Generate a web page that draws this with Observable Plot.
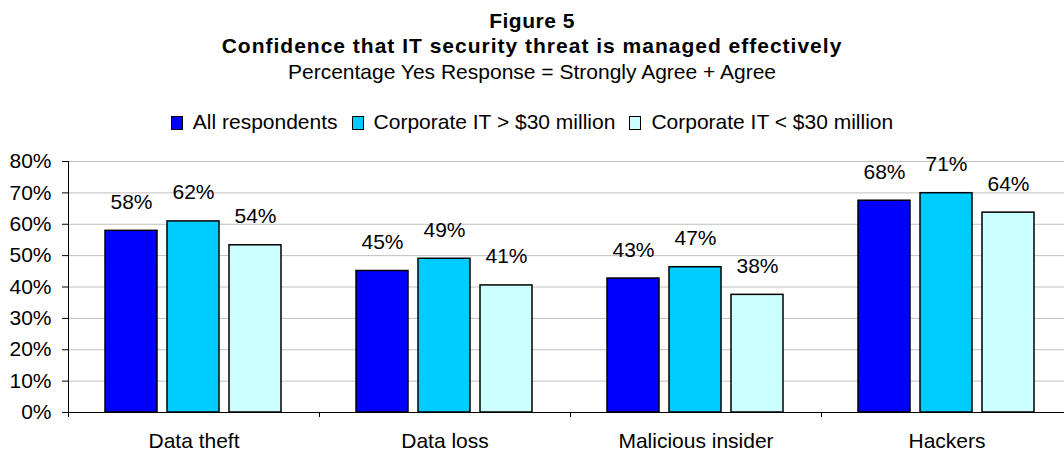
<!DOCTYPE html>
<html><head><meta charset="utf-8">
<script src="https://cdn.jsdelivr.net/npm/d3@7"></script>
<script src="https://cdn.jsdelivr.net/npm/@observablehq/plot@0.6"></script>
<style>
body{margin:0;background:#fff;font-family:"Liberation Sans",Arial,sans-serif;color:#000}
#wrap{position:relative;width:1064px;height:451px;overflow:hidden;background:#fff}
.t{position:absolute;left:0;width:1064px;text-align:center;font-size:21px;line-height:26px;white-space:nowrap}
.b{font-weight:bold}
#legend{position:absolute;left:0;top:109px;width:1064px;display:flex;justify-content:center;align-items:center;font-size:21px;line-height:26px;white-space:nowrap}
.item{display:flex;align-items:center;margin:0 7px}
.sw{width:10px;height:12px;border:1px solid #000;margin-right:10px;margin-top:2px}
#chart{position:absolute;left:0;top:140px}
#chart g[aria-label="y-grid"] line{stroke:#c0c0c0 !important;stroke-opacity:1 !important}
</style></head>
<body>
<div id="wrap">
  <div class="t b" style="top:8px;letter-spacing:0.5px">Figure 5</div>
  <div class="t b" style="top:33px;letter-spacing:1px">Confidence that IT security threat is managed effectively</div>
  <div class="t" style="top:59px">Percentage Yes Response = Strongly Agree + Agree</div>
  <div id="legend"></div>
  <div id="chart"></div>
</div>
<script>
const categories = ["Data theft", "Data loss", "Malicious insider", "Hackers"];
const seriesNames = ["All respondents", "Corporate IT > $30 million", "Corporate IT < $30 million"];
const allRespondents = [57.9, 45.1, 42.7, 67.5];
const corporateLarge = [60.9, 49.0, 46.3, 69.9];
const corporateSmall = [53.3, 40.5, 37.5, 63.7];
const labelsAll = [58, 45, 43, 68];
const labelsLarge = [62, 49, 47, 71];
const labelsSmall = [54, 41, 38, 64];
const colors = ["#0000FF", "#00CCFF", "#CCFFFF"];
const yTicks = [0, 10, 20, 30, 40, 50, 60, 70, 80];

const seriesValues = [allRespondents, corporateLarge, corporateSmall];
const seriesLabels = [labelsAll, labelsLarge, labelsSmall];
const rows = [];
categories.forEach((c, i) => {
  seriesNames.forEach((s, j) => {
    rows.push({category: c, series: s, value: seriesValues[j][i], label: seriesLabels[j][i]});
  });
});

// legend
const legend = document.getElementById("legend");
seriesNames.forEach((s, j) => {
  const it = document.createElement("div");
  it.className = "item";
  const sw = document.createElement("div");
  sw.className = "sw";
  sw.style.background = colors[j];
  const tx = document.createElement("span");
  tx.textContent = s;
  it.appendChild(sw); it.appendChild(tx);
  legend.appendChild(it);
});

const W = 1064, ML = 68, MR = -8;
const halfBand = (W - ML - MR) / categories.length / 2;

const chart = Plot.plot({
  width: W, height: 311,
  marginLeft: ML, marginRight: MR, marginTop: 21, marginBottom: 39,
  style: {fontSize: "21px", fontFamily: "'Liberation Sans', Arial, sans-serif", color: "#000", background: "transparent"},
  fx: {domain: categories, padding: 0, label: null, axis: null},
  x: {domain: seriesNames, paddingInner: 0.16, paddingOuter: 0.6, axis: null},
  y: {domain: [0, 80], ticks: yTicks, tickFormat: d => d + "%", tickSize: 6, tickPadding: 11, grid: true, line: true, label: null},
  color: {domain: seriesNames, range: colors},
  marks: [
    Plot.barY(rows, {fx: "category", x: "series", y: "value", fill: "series", stroke: "#000", strokeWidth: 1.5}),
    Plot.ruleY([0], {stroke: "#000", strokeWidth: 1.2}),
    Plot.text(rows, {fx: "category", x: "series", y: "value", text: d => d.label + "%", lineAnchor: "bottom", dy: -22, fontSize: 21, fill: "#000"}),
    Plot.axisFx({anchor: "bottom", tickSize: 0, tickPadding: 21, label: null}),
    Plot.axisFx({anchor: "bottom", tickSize: 5, tickFormat: null, label: null, dx: -halfBand})
  ]
});
document.getElementById("chart").appendChild(chart);
</script>
</body></html>
